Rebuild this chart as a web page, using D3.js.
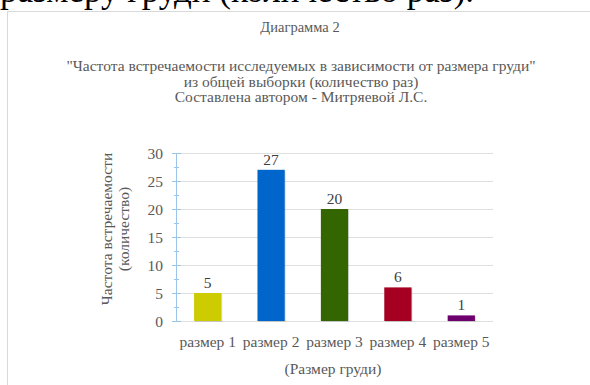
<!DOCTYPE html>
<html>
<head>
<meta charset="utf-8">
<script src="https://cdn.jsdelivr.net/npm/d3@7"></script>
<style>
    body { margin: 0; background: #fff; }
    text { font-family: "Liberation Serif", "Times New Roman", serif; }
</style>
</head>
<body>
<svg id="chart"></svg>
<script>
'use strict';

const categories = ["размер 1", "размер 2", "размер 3", "размер 4", "размер 5"];
const values = [5, 27, 20, 6, 1];
const barColors = ["#cccc00", "#0066cc", "#336600", "#a50021", "#6e006e"];
const yTicks = [0, 5, 10, 15, 20, 25, 30];
const titleLines = [
    '"Частота встречаемости исследуемых в зависимости от размера груди"',
    "из общей выборки (количество раз)",
    "Составлена автором - Митряевой Л.С."
];

const width = 590;
const height = 385;
const margin = {top: 153, left: 176, right: 97, bottom: 64};
const FONT = 15.5;

var svg = d3.select("#chart")
    .attr("width", width)
    .attr("height", height);

// cut-off line of document text above the chart
svg.append("text")
    .attr("x", 0)
    .attr("y", 2)
    .attr("font-size", 35)
    .attr("fill", "#000")
    .text("размеру груди (количество раз).");

// chart frame
svg.append("rect")
    .attr("x", 7.5)
    .attr("y", 11.5)
    .attr("width", 700)
    .attr("height", 500)
    .attr("fill", "#fff")
    .attr("stroke", "#d9d9d9");

svg.append("text")
    .attr("x", 300)
    .attr("y", 32)
    .attr("text-anchor", "middle")
    .attr("font-size", 14.5)
    .attr("fill", "#595959")
    .text("Диаграмма 2");

svg.selectAll(".subtitle")
    .data(titleLines)
    .enter()
    .append("text")
    .attr("class", "subtitle")
    .attr("x", 301)
    .attr("y", function (d, i) { return 71 + i * 15.5; })
    .attr("text-anchor", "middle")
    .attr("font-size", FONT)
    .attr("fill", "#595959")
    .text(function (d) { return d; });

var x = d3.scaleBand()
    .domain(categories)
    .range([margin.left, width - margin.right])
    .paddingInner(0.57)
    .paddingOuter(0.285);

var y = d3.scaleLinear()
    .domain([0, 30])
    .range([height - margin.bottom, margin.top]);

// gridlines
svg.selectAll(".grid")
    .data(yTicks)
    .enter()
    .append("line")
    .attr("class", "grid")
    .attr("x1", margin.left)
    .attr("x2", width - margin.right)
    .attr("y1", function (d) { return Math.round(y(d)) + 0.5; })
    .attr("y2", function (d) { return Math.round(y(d)) + 0.5; })
    .attr("stroke", "#e0e0e0");

// bars with a faint shadow
svg.selectAll(".shadow")
    .data(values)
    .enter()
    .append("rect")
    .attr("class", "shadow")
    .attr("x", function (d, i) { return x(categories[i]) + 1; })
    .attr("y", function (d) { return y(d) + 1; })
    .attr("width", x.bandwidth())
    .attr("height", function (d) { return y(0) - y(d); })
    .attr("fill", "#000")
    .attr("opacity", 0.12);

svg.selectAll(".bar")
    .data(values)
    .enter()
    .append("rect")
    .attr("class", "bar")
    .attr("x", function (d, i) { return x(categories[i]); })
    .attr("y", function (d) { return y(d); })
    .attr("width", x.bandwidth())
    .attr("height", function (d) { return y(0) - y(d); })
    .attr("fill", function (d, i) { return barColors[i]; });

svg.selectAll(".value")
    .data(values)
    .enter()
    .append("text")
    .attr("class", "value")
    .attr("x", function (d, i) { return x(categories[i]) + x.bandwidth() / 2; })
    .attr("y", function (d) { return y(d) - 5; })
    .attr("text-anchor", "middle")
    .attr("font-size", FONT)
    .attr("fill", "#404040")
    .text(function (d) { return d; });

// y axis with major and minor ticks
var axisColor = "#9cc3e8";
var yAxis = svg.append("g");
yAxis.append("line")
    .attr("x1", margin.left + 0.5).attr("x2", margin.left + 0.5)
    .attr("y1", y(30)).attr("y2", y(0))
    .attr("stroke", axisColor);
yAxis.selectAll(".major")
    .data(yTicks)
    .enter()
    .append("line")
    .attr("x1", margin.left - 4).attr("x2", margin.left + 5)
    .attr("y1", function (d) { return Math.round(y(d)) + 0.5; })
    .attr("y2", function (d) { return Math.round(y(d)) + 0.5; })
    .attr("stroke", axisColor);
yAxis.selectAll(".minor")
    .data(d3.range(2.5, 30, 5))
    .enter()
    .append("line")
    .attr("x1", margin.left - 2).attr("x2", margin.left + 3)
    .attr("y1", function (d) { return Math.round(y(d)) + 0.5; })
    .attr("y2", function (d) { return Math.round(y(d)) + 0.5; })
    .attr("stroke", axisColor);
yAxis.selectAll(".label")
    .data(yTicks)
    .enter()
    .append("text")
    .attr("x", margin.left - 13)
    .attr("y", function (d) { return y(d) + 5.5; })
    .attr("text-anchor", "end")
    .attr("font-size", FONT)
    .attr("fill", "#595959")
    .text(function (d) { return d; });

// x labels
svg.selectAll(".cat")
    .data(categories)
    .enter()
    .append("text")
    .attr("x", function (d) { return x(d) + x.bandwidth() / 2; })
    .attr("y", 347)
    .attr("text-anchor", "middle")
    .attr("font-size", FONT)
    .attr("fill", "#595959")
    .text(function (d) { return d; });

svg.append("text")
    .attr("x", 333)
    .attr("y", 374)
    .attr("text-anchor", "middle")
    .attr("font-size", FONT)
    .attr("fill", "#595959")
    .text("(Размер груди)");

var yTitle = svg.append("text")
    .attr("transform", "translate(112,229) rotate(-90)")
    .attr("text-anchor", "middle")
    .attr("font-size", FONT)
    .attr("fill", "#595959");
yTitle.append("tspan").attr("x", 0).attr("dy", 0).text("Частота встречаемости");
yTitle.append("tspan").attr("x", 0).attr("dy", 17).text("(количество)");
</script>
</body>
</html>
